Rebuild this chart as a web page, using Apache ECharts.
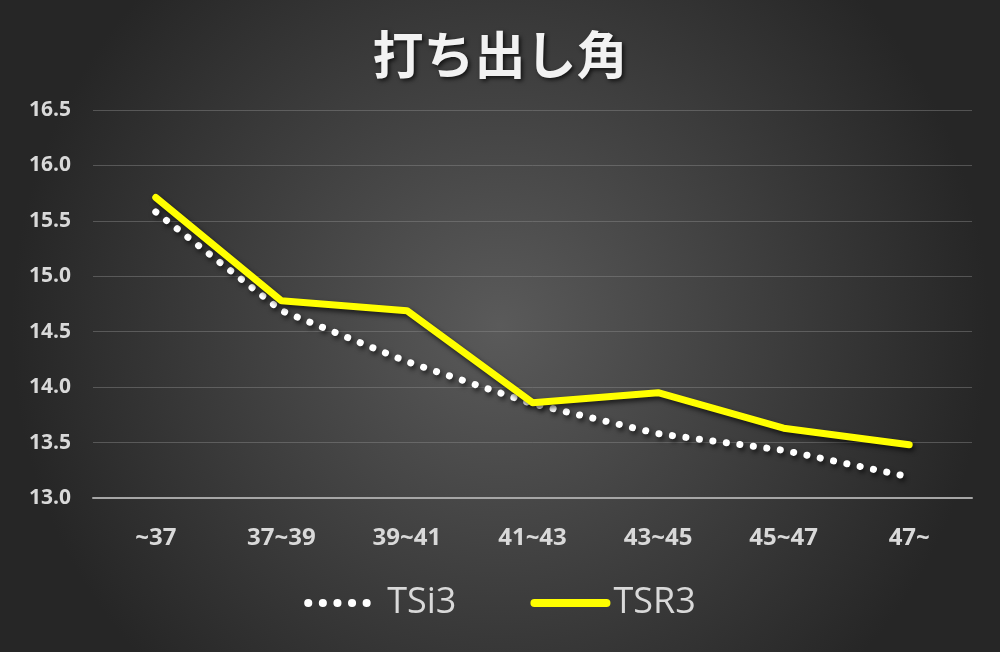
<!DOCTYPE html>
<html><head><meta charset="utf-8">
<script src="https://cdn.jsdelivr.net/npm/echarts@6/dist/echarts.min.js"></script>
<style>html,body{margin:0;padding:0;background:#3a3a3a}#c{width:1000px;height:652px}</style>
</head><body><div id="c"></div>
<script>
const categories = ['~37','37~39','39~41','41~43','43~45','45~47','47~'];
const tsi3 = [15.58, 14.69, 14.23, 13.85, 13.58, 13.43, 13.19];
const tsr3 = [15.71, 14.78, 14.69, 13.86, 13.95, 13.63, 13.48];
const yTicks = {min: 13.0, max: 16.5, interval: 0.5};

const chart = echarts.init(document.getElementById('c'));
const shadow = {shadowColor:'rgba(0,0,0,0.65)', shadowBlur:5, shadowOffsetX:2, shadowOffsetY:3};
chart.setOption({
  backgroundColor: {type:'radial', x:0.5, y:0.5, r:0.75, colorStops:[{offset:0,color:'#5a5a5a'},{offset:1,color:'#262626'}]},
  animation:false,
  title:{text:'打ち出し角', left:'center', top:24, textStyle:{color:'#f2f2f2', fontSize:51, fontWeight:'bold', fontFamily:'Noto Sans CJK JP', textShadowColor:'rgba(0,0,0,0.7)', textShadowBlur:4, textShadowOffsetX:2, textShadowOffsetY:2}},
  grid:{left:93, right:28, top:110, bottom:154},
  legend:{bottom:26, left:'center', itemGap:74, itemWidth:72, itemHeight:14,
    textStyle:{color:'#d9d9d9', fontSize:36, fontFamily:'Open Sans', padding:[0,0,0,2]},
    data:[
      {name:'TSi3', itemStyle:{color:'rgba(0,0,0,0)', borderWidth:0}, lineStyle:{width:8, type:[0.1,14.5], cap:'round', color:'#ffffff', shadowBlur:0, shadowOffsetX:0, shadowOffsetY:0}},
      {name:'TSR3', itemStyle:{color:'rgba(0,0,0,0)', borderWidth:0}, lineStyle:{width:8, cap:'round', color:'#ffff00', shadowBlur:0, shadowOffsetX:0, shadowOffsetY:0}}
    ]},
  xAxis:{type:'category', data:categories, boundaryGap:true,
    axisLine:{lineStyle:{color:'#a6a6a6', width:2}}, axisTick:{show:false},
    axisLabel:{color:'#d9d9d9', fontSize:24, fontWeight:'bold', fontFamily:'Open Sans', margin:28}},
  yAxis:{type:'value', min:yTicks.min, max:yTicks.max, interval:yTicks.interval,
    axisLine:{show:false}, axisTick:{show:false},
    axisLabel:{color:'#d9d9d9', fontSize:21, fontWeight:'bold', fontFamily:'Open Sans', margin:22, formatter:v=>v.toFixed(1)},
    splitLine:{lineStyle:{color:'rgba(140,140,140,0.45)', width:1}}},
  series:[
    {name:'TSi3', type:'line', data:tsi3, symbol:'none', smooth:false,
     lineStyle:Object.assign({color:'#ffffff', width:7, type:[0.1,13.5], cap:'round'}, shadow),
     itemStyle:{color:'#ffffff'}},
    {name:'TSR3', type:'line', data:tsr3, symbol:'none', smooth:false,
     lineStyle:Object.assign({color:'#ffff00', width:7, cap:'round', join:'round'}, shadow),
     itemStyle:{color:'#ffff00'}}
  ]
});
</script></body></html>
